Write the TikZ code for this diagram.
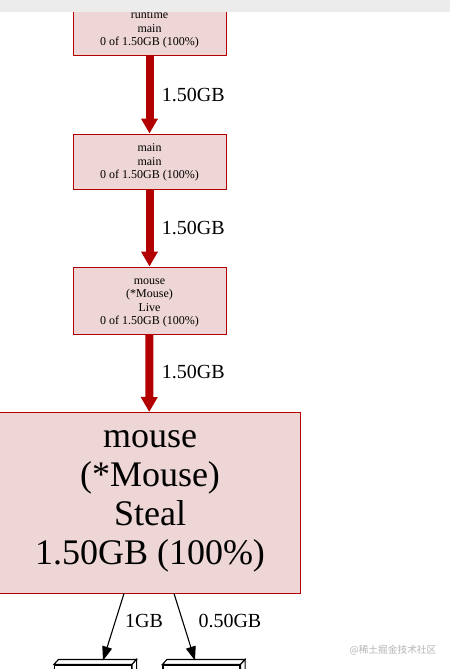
\documentclass[tikz,border=0pt]{standalone}
\usepackage{fontspec}
\setmainfont{Liberation Serif}
\newfontfamily\cjkfont{Noto Sans CJK SC}
\usetikzlibrary{arrows.meta,calc}
\definecolor{pfill}{HTML}{EDD6D5}
\definecolor{pline}{HTML}{B20000}
\definecolor{barg}{HTML}{ECECEC}
\definecolor{wmark}{HTML}{B4B4B4}
\newcommand\mlines[1]{\begin{tabular}[t]{@{}c@{}}#1\end{tabular}}
\begin{document}
\begin{tikzpicture}[x=1pt,y=-1pt,
  fnbox/.style={draw=pline,fill=pfill,line width=1pt,inner sep=0pt},
  smalltext/.style={anchor=base,inner sep=0pt,font=\fontsize{12}{13.5}\selectfont},
  bigtext/.style={anchor=base,inner sep=0pt,font=\fontsize{36}{39.3}\selectfont},
  elabel/.style={anchor=base west,inner sep=0pt,font=\fontsize{20}{24}\selectfont},
  bigarrow/.style={draw=pline,line width=8pt,-{Triangle[width=16pt,length=15pt]},color=pline},
  thinarrow/.style={draw=black,line width=1.1pt,-{Triangle[width=10pt,length=14pt]}},
  leafbox/.style={draw=black,fill=white,line width=1.1pt,inner sep=0pt,minimum width=77pt,minimum height=40pt},
  leafline/.style={draw=black,fill=white,line width=1.1pt,line join=miter}]
\useasboundingbox (0,0) rectangle (450,669);
\clip (0,0) rectangle (450,669);
% boxes
\node[fnbox,minimum width=153pt,minimum height=55pt] (box1) at (149.5,28.5) {};
\node[fnbox,minimum width=153pt,minimum height=55pt] (box2) at (149.5,161.5) {};
\node[fnbox,minimum width=153pt,minimum height=67pt] (box3) at (149.5,300.5) {};
\node[fnbox,minimum width=302pt,minimum height=180.5pt] (box4) at (149,502.75) {};
% texts
\node[smalltext] (t1) at (149.5,19) {\mlines{runtime\\main\\0 of 1.50GB (100\%)}};
\node[smalltext] (t2) at (149.5,151.5) {\mlines{main\\main\\0 of 1.50GB (100\%)}};
\node[smalltext] (t3) at (149.5,284.3) {\mlines{mouse\\(*Mouse)\\Live\\0 of 1.50GB (100\%)}};
\node[bigtext] (t4) at (150,447) {\mlines{mouse\\(*Mouse)\\Steal\\1.50GB (100\%)}};
% thick edges
\draw[bigarrow] (box1) -- (box2);
\draw[bigarrow] (box2) -- (box3);
\draw[bigarrow] (box3) -- (box4);
\node[elabel] (l1) at (161.7,101.5) {1.50GB};
\node[elabel] (l2) at (161.7,234.3) {1.50GB};
\node[elabel] (l3) at (161.7,378.5) {1.50GB};
% leaf boxes
\node[leafbox] (leafA) at (93,685) {};
\node[leafbox] (leafB) at (201.5,685) {};
\foreach \lf in {leafA,leafB}{
  \draw[leafline] (\lf.north west) -- ++(4.5,-5) -- ($(\lf.north east)+(4.5,-5)$) -- (\lf.north east) -- cycle;
  \draw[leafline] (\lf.north east) -- ($(\lf.north east)+(4.5,-5)$) -- ($(\lf.south east)+(4.5,-5)$) -- (\lf.south east) -- cycle;
}
% thin edges
\coordinate (s1) at (124,593.5);
\coordinate (e1) at (103,660.5);
\coordinate (s2) at (174,593.5);
\coordinate (e2) at (195,660.5);
\draw[thinarrow] (s1) -- (e1);
\draw[thinarrow] (s2) -- (e2);
\node[elabel] (l4) at (125,627) {1GB};
\node[elabel] (l5) at (198.3,627) {0.50GB};
% watermark
\node[inner sep=0pt,text=wmark,font=\cjkfont\fontsize{9.7}{11}\selectfont] (wm) at (393,650) {@稀土掘金技术社区};
% top grey bar of the screenshot
\fill[barg] (0,0) rectangle (450,12);
\end{tikzpicture}
\end{document}
